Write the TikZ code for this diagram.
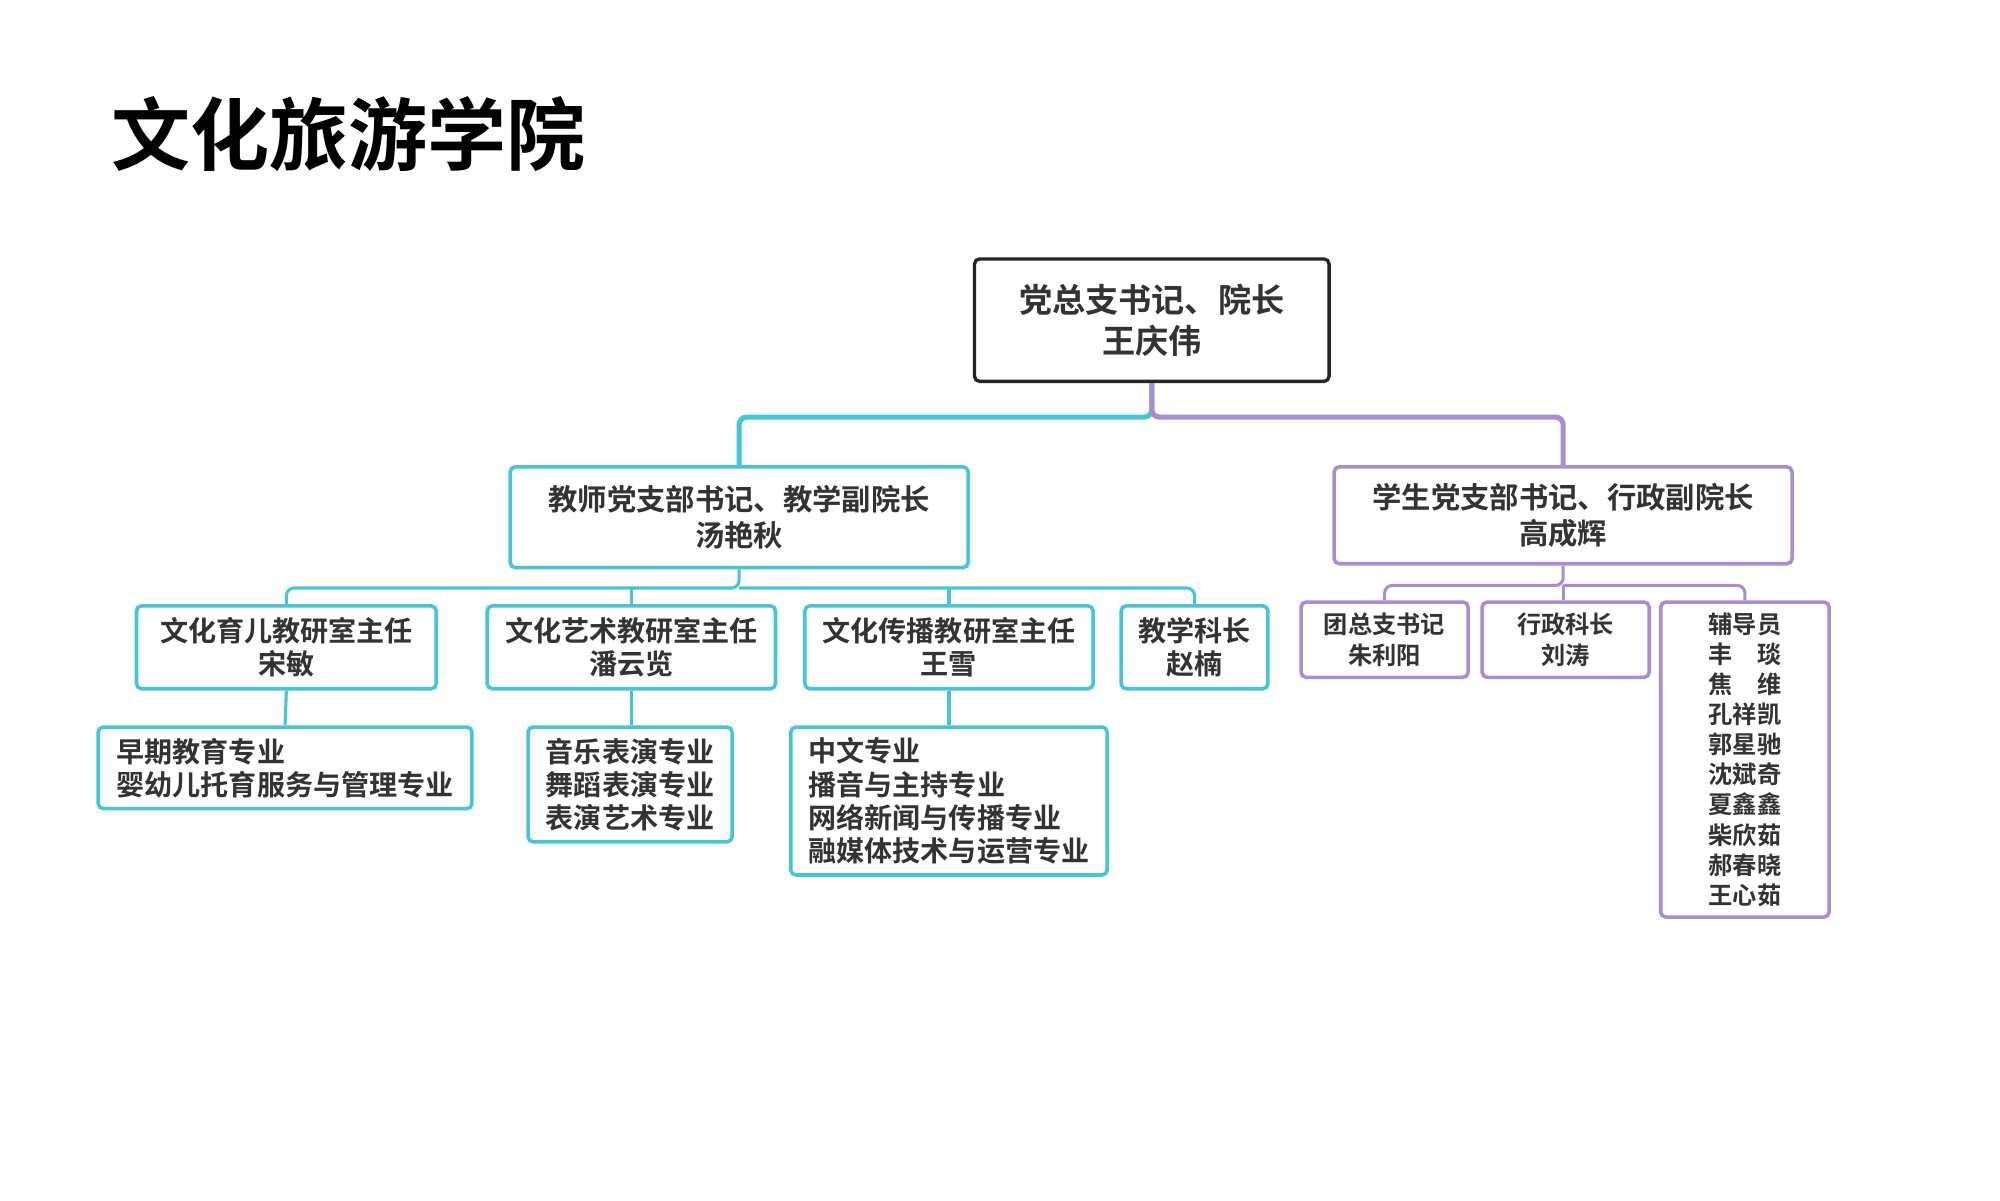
\documentclass[tikz,border=0pt]{standalone}
\usepackage{fontspec}
\newfontfamily\cjk{Noto Sans CJK SC}[BoldFont=* Bold]
\begin{document}
\begin{tikzpicture}[x=0.5pt,y=-0.5pt,
 tl/.style={draw=teal1,line width=1.4pt,rounded corners=2pt,align=center,inner sep=0pt,font=\cjk\bfseries\fontsize{11}{13}\selectfont,text=black!80},
 pl/.style={tl,draw=purp},
 tc/.style={draw=teal1,line width=1.2pt},
 pc/.style={draw=purp,line width=1.2pt}]
\definecolor{teal1}{HTML}{45C6D6}
\definecolor{purp}{HTML}{A98CD2}
\useasboundingbox (0,0) rectangle (1568,941);
\fill[white] (0,0) rectangle (1568,941);
\node[font=\cjk\bfseries\fontsize{31}{34}\selectfont,anchor=west] (title) at (80,105) {文化旅游学院};
\node[tl,draw=black!85,line width=1.3pt,minimum width=139pt,minimum height=48pt,font=\cjk\bfseries\fontsize{13}{16}\selectfont] (top) at (903,251) {党总支书记、院长\\王庆伟};
\node[tl,minimum width=179.5pt,minimum height=39.5pt,font=\cjk\bfseries\fontsize{11.5}{14}\selectfont] (L) at (579.5,405.5) {教师党支部书记、教学副院长\\汤艳秋};
\node[pl,minimum width=179.5pt,minimum height=38pt,font=\cjk\bfseries\fontsize{11.5}{14}\selectfont] (R) at (1225.5,404) {学生党支部书记、行政副院长\\高成辉};
\node[tl,minimum width=117.5pt,minimum height=32.5pt] (A) at (224.5,507.5) {文化育儿教研室主任\\宋敏};
\node[tl,minimum width=113pt,minimum height=32.5pt] (B) at (495,507.5) {文化艺术教研室主任\\潘云览};
\node[tl,minimum width=113pt,minimum height=32.5pt] (C) at (744,507.5) {文化传播教研室主任\\王雪};
\node[tl,minimum width=57.5pt,minimum height=32.5pt] (D) at (936.5,507.5) {教学科长\\赵楠};
\node[tl,minimum width=146.5pt,minimum height=32pt,align=left] (A2) at (223.5,602) {早期教育专业\\婴幼儿托育服务与管理专业};
\node[tl,minimum width=80pt,minimum height=45pt,align=left] (B2) at (494,615) {音乐表演专业\\舞蹈表演专业\\表演艺术专业};
\node[tl,minimum width=124pt,minimum height=58pt,align=left] (C2) at (744,628) {中文专业\\播音与主持专业\\网络新闻与传播专业\\融媒体技术与运营专业};
\node[pl,minimum width=65.5pt,minimum height=29.5pt,font=\cjk\bfseries\fontsize{9.5}{12}\selectfont] (R1) at (1085.5,501.5) {团总支书记\\朱利阳};
\node[pl,minimum width=65.5pt,minimum height=29.5pt,font=\cjk\bfseries\fontsize{9.5}{12}\selectfont] (R2) at (1227.5,501.5) {行政科长\\刘涛};
\node[pl,minimum width=66pt,minimum height=123.5pt,align=left,font=\cjk\bfseries\fontsize{9.5}{11.8}\selectfont] (R3) at (1368,595.5) {辅导员\\丰\quad 琰\\焦\quad 维\\孔祥凯\\郭星驰\\沈斌奇\\夏鑫鑫\\柴欣茹\\郝春晓\\王心茹};
\coordinate (b1) at (0,327);
\coordinate (b2) at (0,461);
\coordinate (b3) at (0,459);
\draw[tc,line width=2pt,rounded corners=3pt] (top.south) -- (top.south|-b1) -| (L.north);
\draw[pc,line width=2pt,rounded corners=3pt] (top.south) -- (top.south|-b1) -| (R.north);
\draw[tc,rounded corners=3pt] (L.south) -- (L.south|-b2) -| (A.north);
\draw[tc,rounded corners=3pt] (L.south|-b2) -| (D.north);
\draw[tc] (B.north) -- (B.north|-b2);
\draw[tc] (C.north) -- (C.north|-b2);
\draw[tc] (A.south) -- (A2.north);
\draw[tc] (B.south) -- (B.south|-B2.north);
\draw[tc] (C.south) -- (C2.north);
\draw[pc,rounded corners=3pt] (R.south) -- (R.south|-b3) -| (R1.north);
\draw[pc,rounded corners=3pt] (R.south|-b3) -| (R3.north);
\draw[pc] (R.south|-b3) -- (R2.north-|R.south);
\end{tikzpicture}
\end{document}
